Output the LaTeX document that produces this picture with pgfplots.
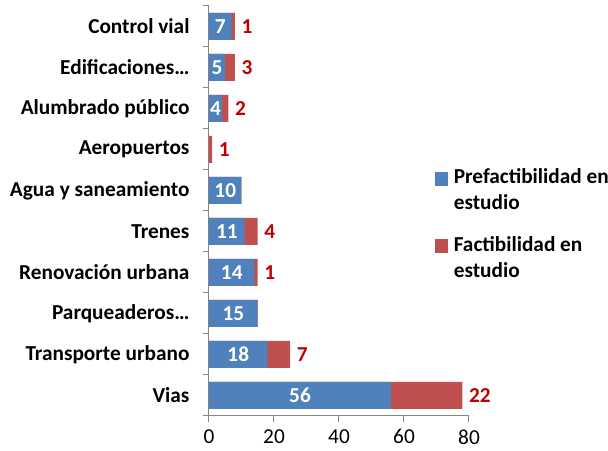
\documentclass[border=0pt]{standalone}
\usepackage{pgfplots}
\pgfplotsset{compat=1.18}
\usepackage{fontspec}
\setmainfont{Carlito}
\definecolor{cblue}{HTML}{4F81BD}
\definecolor{cred}{HTML}{C0504D}
\definecolor{clab}{HTML}{C00000}
\definecolor{caxis}{HTML}{868686}
\newcommand{\fs}{\fontsize{21.3}{26}\selectfont}
\begin{document}
\begin{tikzpicture}
\path[use as bounding box] (0pt,0pt) rectangle (608pt,450pt);
\begin{axis}[
  at={(209pt,34pt)}, anchor=south west,
  scale only axis, width=260pt, height=410pt,
  xmin=0, xmax=80, ymin=-0.5, ymax=9.5,
  axis x line*=bottom, axis y line*=left,
  axis line style={caxis, line width=1pt, -},
  xtick={0,20,...,80},
  ytick={0,...,9},
  yticklabels={Vias, Transporte urbano, Parqueaderos…, Renovación urbana, Trenes, Agua y saneamiento, Aeropuertos, Alumbrado público, Edificaciones…, Control vial},
  y tick label style={font=\fs\bfseries, anchor=east, xshift=-10pt},
  x tick label style={font=\fs, yshift=-4pt},
  /pgf/number format/assume math mode=true,
  tick align=outside,
  major tick length=6pt,
  ytick style={draw=none},
  xtick style={caxis, line width=1pt},
  extra y ticks={-0.5,0.5,...,9.5},
  extra y tick labels={},
  extra y tick style={ytick style={draw=caxis, line width=1pt}},
  legend style={at={(0.87,0.616)}, anchor=north west, draw=none, fill=none,
    font=\fs\bfseries, cells={anchor=base west}, row sep=44pt, inner sep=0pt},
]
\addlegendimage{legend image code/.code={\fill[cblue] (0pt,-1pt) rectangle (12pt,12pt);}}
\addlegendentry{\hspace{4pt}\begin{tabular}[t]{@{}l@{}}Prefactibilidad en\\estudio\end{tabular}}
\addlegendimage{legend image code/.code={\fill[cred] (0pt,-1pt) rectangle (12pt,12pt);}}
\addlegendentry{\hspace{4pt}\begin{tabular}[t]{@{}l@{}}Factibilidad en\\estudio\end{tabular}}
% total (blue + red), red shows beyond blue
\addplot[forget plot, xbar, bar width=27pt, bar shift=0pt, fill=cred, draw=none,
  nodes near coords, point meta=explicit symbolic,
  nodes near coords style={anchor=west, text=clab, font=\fs\bfseries, xshift=3pt}]
  coordinates {(78,0)[22] (25,1)[7] (15,2)[] (15,3)[1] (15,4)[4] (10,5)[] (1,6)[1] (6,7)[2] (8,8)[3] (8,9)[1]};
% prefactibilidad
\addplot[forget plot, xbar, bar width=27pt, bar shift=0pt, fill=cblue, draw=none]
  coordinates {(56,0) (18,1) (15,2) (14,3) (11,4) (10,5) (0,6) (4,7) (5,8) (7,9)};
% labels centred in blue segments
\addplot[forget plot, only marks, mark=none, nodes near coords, point meta=explicit symbolic,
  nodes near coords style={anchor=center, text=white, font=\fs\bfseries}]
  coordinates {(28,0)[56] (9,1)[18] (7.5,2)[15] (7,3)[14] (5.5,4)[11] (5,5)[10] (2,7)[4] (2.5,8)[5] (3.5,9)[7]};
\end{axis}
\end{tikzpicture}
\end{document}
